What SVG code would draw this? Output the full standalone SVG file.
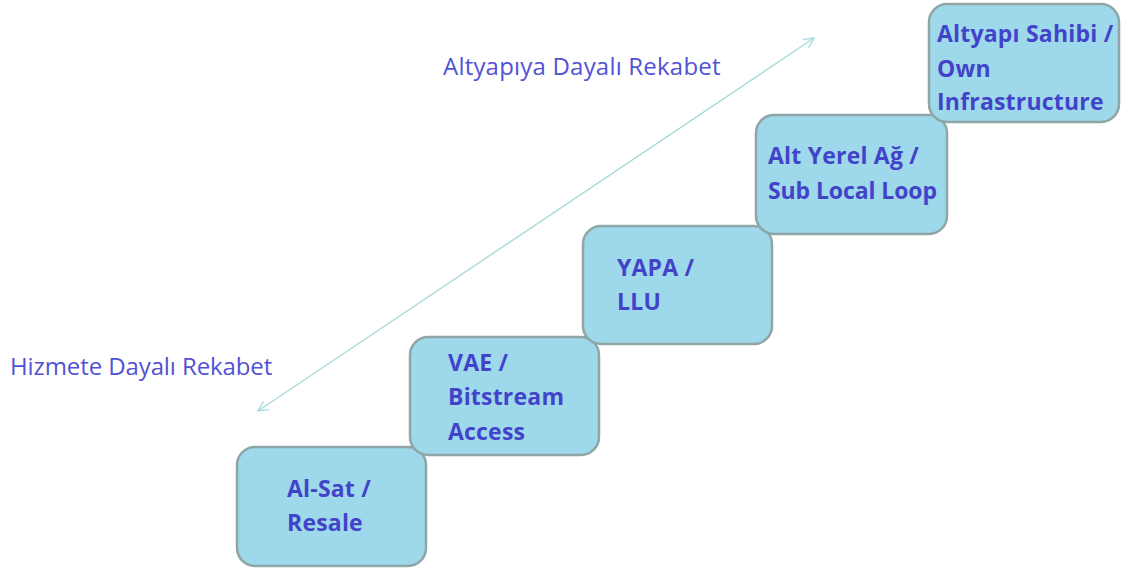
<svg xmlns="http://www.w3.org/2000/svg" width="1128" height="570" viewBox="0 0 1128 570">
  <defs>
    <marker id="open" viewBox="0 0 12 12" refX="11" refY="6" markerWidth="12" markerHeight="12" markerUnits="userSpaceOnUse" orient="auto-start-reverse">
      <path d="M1,1 L11,6 L1,11" fill="none" stroke="#a9dada" stroke-width="1.4"/>
    </marker>
  </defs>
  <style>
    .step { fill: #9dd9ea; stroke: #8fa5a6; stroke-width: 2.5; }
    .lbl { font-family: "Open Sans", Lato, sans-serif; font-weight: bold; font-size: 23px; letter-spacing: 0.2px; fill: #4343c9; }
    .axis { font-family: "Open Sans", Lato, sans-serif; font-size: 24px; letter-spacing: 0.2px; fill: #5252d6; }
  </style>
  <rect width="1128" height="570" fill="#ffffff"/>

  <g id="connectors">
    <line x1="258" y1="411" x2="814" y2="38" stroke="#a9dada" stroke-width="1.4" marker-start="url(#open)" marker-end="url(#open)"/>
  </g>

  <g id="axis-labels">
    <text class="axis" x="443" y="75">Altyapıya Dayalı Rekabet</text>
    <text class="axis" x="10" y="375" style="letter-spacing:-0.1px">Hizmete Dayalı Rekabet</text>
  </g>

  <g id="step-resale">
    <rect class="step" x="237" y="447" width="189" height="119" rx="18"/>
    <text class="lbl" x="287" y="497">Al-Sat /</text>
    <text class="lbl" x="287" y="531">Resale</text>
  </g>

  <g id="step-bitstream">
    <rect class="step" x="410" y="337" width="189" height="118" rx="18"/>
    <text class="lbl" x="448" y="371">VAE /</text>
    <text class="lbl" x="448" y="405">Bitstream</text>
    <text class="lbl" x="448" y="440">Access</text>
  </g>

  <g id="step-llu">
    <rect class="step" x="583" y="226" width="189" height="118" rx="18"/>
    <text class="lbl" x="617" y="276">YAPA /</text>
    <text class="lbl" x="617" y="310">LLU</text>
  </g>

  <g id="step-subloop">
    <rect class="step" x="756" y="115" width="191" height="119" rx="18"/>
    <text class="lbl" x="768" y="164">Alt Yerel Ağ /</text>
    <text class="lbl" x="768" y="199" style="letter-spacing:-0.1px">Sub Local Loop</text>
  </g>

  <g id="step-own">
    <rect class="step" x="929" y="4" width="190" height="118" rx="18"/>
    <text class="lbl" x="937" y="42">Altyapı Sahibi /</text>
    <text class="lbl" x="937" y="77">Own</text>
    <text class="lbl" x="937" y="110">Infrastructure</text>
  </g>
</svg>
